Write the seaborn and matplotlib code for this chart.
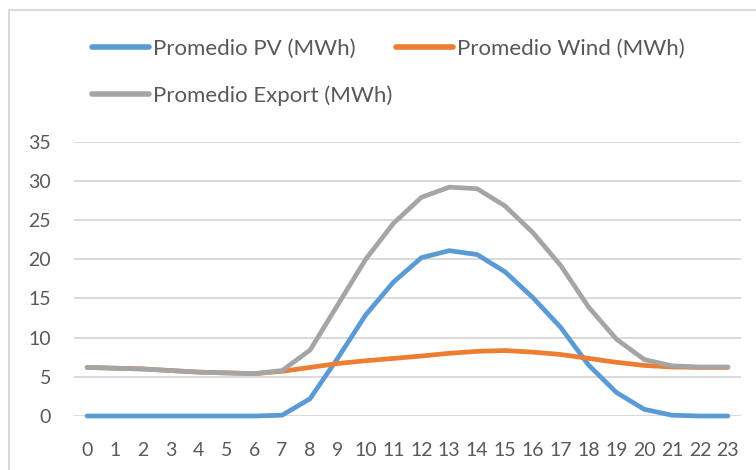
import matplotlib
matplotlib.use("Agg")
import matplotlib.pyplot as plt
import seaborn as sns
import pandas as pd
from matplotlib.patches import Rectangle

hours = list(range(24))
pv = [0, 0, 0, 0, 0, 0, 0, 0.1, 2.2, 7.4, 12.9, 17.1, 20.2, 21.1, 20.6, 18.4,
      15.1, 11.3, 6.5, 3.0, 0.85, 0.1, 0, 0]
wind = [6.2, 6.1, 6.0, 5.8, 5.6, 5.5, 5.4, 5.7, 6.2, 6.7, 7.05, 7.35, 7.65, 8.0,
        8.25, 8.35, 8.15, 7.85, 7.35, 6.85, 6.45, 6.25, 6.2, 6.2]
export = [6.2, 6.1, 6.0, 5.8, 5.6, 5.5, 5.4, 5.8, 8.4, 14.2, 20.0, 24.6, 27.9,
          29.2, 29.0, 26.8, 23.4, 19.2, 13.9, 9.8, 7.2, 6.4, 6.25, 6.25]
series_names = ["Promedio PV (MWh)", "Promedio Wind (MWh)", "Promedio Export (MWh)"]
colors = ["#5B9BD5", "#ED7D31", "#A5A5A5"]
y_ticks = [0, 5, 10, 15, 20, 25, 30, 35]

df = pd.DataFrame({
    "hour": hours * 3,
    "value": pv + wind + export,
    "series": [series_names[0]] * 24 + [series_names[1]] * 24 + [series_names[2]] * 24,
})

sns.set_theme(style="white")
plt.rcParams["font.family"] = ["Lato", "DejaVu Sans"]
text_color = "#595959"

W, H = 756, 470
fig = plt.figure(figsize=(W / 100, H / 100), dpi=100)
ax = fig.add_axes([74 / W, 1 - 416 / H, (740.7 - 74) / W, (416 - 141.7) / H])

sns.lineplot(data=df, x="hour", y="value", hue="series", hue_order=series_names,
             palette=colors, linewidth=3.4, ax=ax, legend=True, sort=False)
for ln in ax.get_lines():
    ln.set_clip_on(False)
    ln.set_solid_capstyle("round")

ax.set_xlim(-0.47, 23.46)
ax.set_ylim(0, 35)
ax.set_xticks(hours)
ax.set_xticklabels([str(h) for h in hours])
ax.set_yticks(y_ticks)
ax.set_xlabel("")
ax.set_ylabel("")
ax.yaxis.grid(True, color="#D9D9D9", linewidth=1.4)
ax.set_axisbelow(True)
for s in ax.spines.values():
    s.set_visible(False)
ax.tick_params(axis="both", length=0, labelsize=14, labelcolor=text_color)
ax.tick_params(axis="y", pad=16.5)
ax.tick_params(axis="x", pad=18.5)

handles, labels = ax.get_legend_handles_labels()
ax.get_legend().remove()
for h in handles:
    h.set_linewidth(4)
    h.set_solid_capstyle("round")
# legend fills column-wise: PV and Export in the first column, Wind in the second
order = [0, 2, 1]
leg = fig.legend([handles[i] for i in order], [labels[i] for i in order],
                 loc="upper left", bbox_to_anchor=(92 / W, 1 - 39 / H),
                 ncol=2, frameon=False, fontsize=16, handlelength=2.55,
                 handletextpad=0.18, columnspacing=0.2, labelspacing=1.2,
                 borderaxespad=0, borderpad=0)
for t in leg.get_texts():
    t.set_color(text_color)

# chart area border
fig.patches.append(Rectangle((9 / W, -0.1), 1.2, 1 - 10 / H + 0.1,
                             transform=fig.transFigure, fill=False,
                             edgecolor="#D9D9D9", linewidth=1.5))

fig.savefig("out.png", dpi=100)
